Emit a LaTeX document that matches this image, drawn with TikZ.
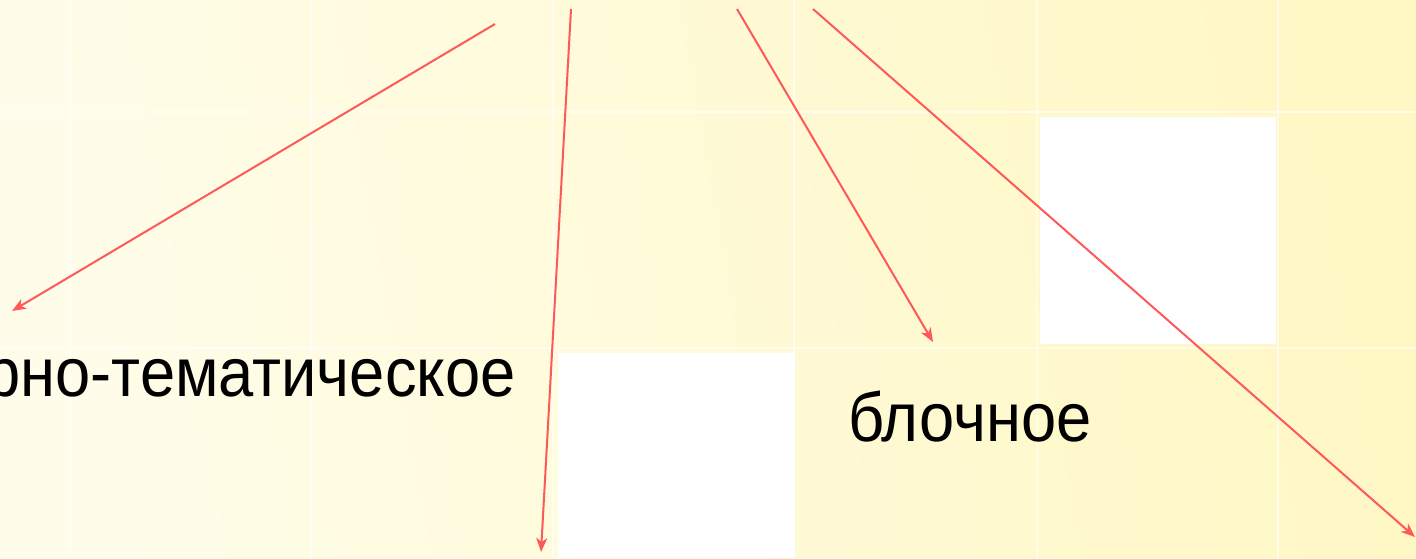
\documentclass[tikz,border=0pt]{standalone}
\usepackage{fontspec}
\setmainfont{Liberation Sans}
\usetikzlibrary{arrows.meta}
\definecolor{bgleft}{RGB}{255,253,234}
\definecolor{bgright}{RGB}{255,247,196}
\definecolor{arrowred}{RGB}{255,88,88}
\newcommand{\condtext}[1]{\scalebox{0.917}[1]{#1}}
\tikzset{
  px/.style={x=0.5pt,y=-0.5pt},
  conn/.style={draw=arrowred,line width=1pt,-{Stealth[length=7pt,width=5.5pt,inset=2pt]}},
  label/.style={inner sep=0pt,font=\fontsize{34.5}{40}\selectfont,text=black},
  tileline/.style={draw=white,line width=1.2pt,opacity=0.6},
  whitetile/.style={fill=white,draw=none}
}
\begin{document}
\begin{tikzpicture}[px]
\useasboundingbox (0,0) rectangle (1416,558);
\clip (0,0) rectangle (1416,558);
\shade[left color=bgleft,right color=bgright,shading angle=100] (0,0) rectangle (1416,558);
% white tiles
\fill[whitetile] (1040,117) rectangle (1276,344);
\fill[whitetile] (558,353) rectangle (795,558);
% tile grid
\foreach \gx in {70,311,553,794,1037,1278}{
  \draw[tileline] (\gx,0) -- (\gx,558);
}
\foreach \gy in {112,348}{
  \draw[tileline] (0,\gy) -- (1416,\gy);
}
% texts
\node[label,anchor=base east] (kt) at (516,396) {\condtext{календарно-тематическое}};
\node[label,anchor=base west] (bl) at (848,441) {\condtext{блочное}};
% connector ends
\coordinate (s1) at (495,24);
\coordinate (e1) at (12,311);
\coordinate (s2) at (571,9);
\coordinate (e2) at (541,552);
\coordinate (s3) at (737,9);
\coordinate (e3) at (933,342);
\coordinate (s4) at (813,9);
\coordinate (e4) at (1415,537);
\draw[conn] (s1) -- (e1);
\draw[conn] (s2) -- (e2);
\draw[conn] (s3) -- (e3);
\draw[conn] (s4) -- (e4);
\end{tikzpicture}
\end{document}
